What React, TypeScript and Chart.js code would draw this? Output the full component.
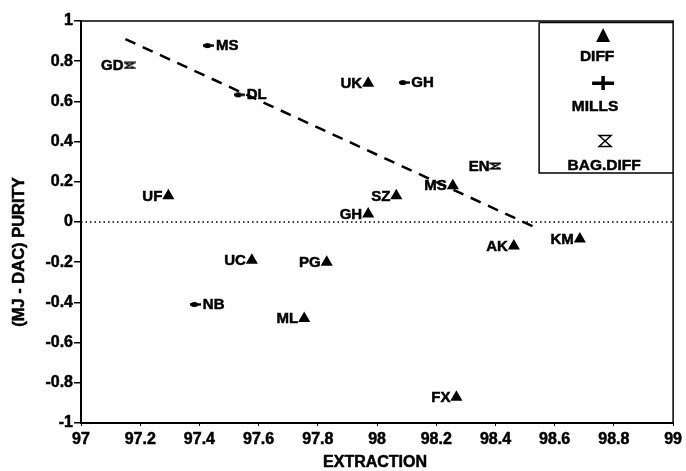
import React, { useEffect, useRef } from 'react';
import { Chart, registerables } from 'chart.js';

Chart.register(...registerables);

// ---- data ----
const diffNames = ['UK', 'MS', 'SZ', 'GH', 'UF', 'UC', 'PG', 'ML', 'AK', 'KM', 'FX'];
const diffX = [97.97, 98.256, 98.065, 97.97, 97.295, 97.577, 97.83, 97.754, 98.462, 98.685, 98.268];
const diffY = [0.69, 0.18, 0.13, 0.04, 0.13, -0.19, -0.2, -0.48, -0.12, -0.085, -0.872];

const millsNames = ['MS', 'DL', 'GH', 'NB'];
const millsX = [97.432, 97.536, 98.092, 97.388];
const millsY = [0.878, 0.633, 0.694, -0.41];

const bagNames = ['GD', 'EN'];
const bagX = [97.164, 98.4];
const bagY = [0.779, 0.278];

const trendX = [97.15, 98.53];
const trendY = [0.91, -0.024];

const zeroX = [97, 99];
const zeroY = [0, 0];

const xTicks = [97, 97.2, 97.4, 97.6, 97.8, 98, 98.2, 98.4, 98.6, 98.8, 99];
const xTickLabels = ['97', '97.2', '97.4', '97.6', '97.8', '98', '98.2', '98.4', '98.6', '98.8', '99'];
const yTicks = [-1, -0.8, -0.6, -0.4, -0.2, 0, 0.2, 0.4, 0.6, 0.8, 1];
const yTickLabels = ['-1', '-0.8', '-0.6', '-0.4', '-0.2', '0', '0.2', '0.4', '0.6', '0.8', '1'];

const seriesNames = ['DIFF', 'MILLS', 'BAG.DIFF'];
const xTitle = 'EXTRACTION';
const yTitle = '(MJ - DAC) PURITY';

const FONT = '"Liberation Sans", Arial, sans-serif';

function makeMillsMarker(): HTMLCanvasElement {
  const c = document.createElement('canvas');
  c.width = 11;
  c.height = 7;
  const g = c.getContext('2d')!;
  g.fillStyle = '#000';
  g.beginPath();
  g.ellipse(4, 3.5, 3.6, 2.6, 0, 0, Math.PI * 2);
  g.fill();
  g.fillRect(0, 2.3, 11, 2.4);
  return c;
}

function drawHourglass(g: CanvasRenderingContext2D, cx: number, cy: number, w: number, h: number, lw: number) {
  g.save();
  g.strokeStyle = '#000';
  g.lineWidth = lw;
  g.beginPath();
  g.moveTo(cx - w / 2, cy - h / 2);
  g.lineTo(cx + w / 2, cy - h / 2);
  g.lineTo(cx - w / 2, cy + h / 2);
  g.lineTo(cx + w / 2, cy + h / 2);
  g.closePath();
  g.stroke();
  g.restore();
}

function makeBagMarker(): HTMLCanvasElement {
  const c = document.createElement('canvas');
  c.width = 12;
  c.height = 8;
  const g = c.getContext('2d')!;
  drawHourglass(g, 6, 4, 10, 5.5, 1.6);
  return c;
}

function boldText(ctx: CanvasRenderingContext2D, t: string, x: number, y: number) {
  ctx.fillText(t, x, y);
  ctx.lineWidth = 0.5;
  ctx.strokeStyle = '#000';
  ctx.strokeText(t, x, y);
}

const labelsPlugin = {
  id: 'pointLabels',
  afterDatasetsDraw(chart: any) {
    const ctx = chart.ctx;
    ctx.save();
    ctx.fillStyle = '#000';
    ctx.font = `bold 15px ${FONT}`;
    ctx.textBaseline = 'middle';
    const sets = [
      { idx: 0, names: diffNames, align: 'right', dx: -6 },
      { idx: 1, names: millsNames, align: 'left', dx: 7 },
      { idx: 2, names: bagNames, align: 'right', dx: -6 },
    ];
    for (const s of sets) {
      const meta = chart.getDatasetMeta(s.idx);
      meta.data.forEach((el: any, i: number) => {
        ctx.textAlign = s.align;
        boldText(ctx, s.names[i], el.x + s.dx, el.y + 0.5);
      });
    }
    ctx.restore();
  },
};

const framePlugin = {
  id: 'frameAndLegend',
  afterDraw(chart: any) {
    const ctx = chart.ctx;
    const a = chart.chartArea;
    ctx.save();
    ctx.strokeStyle = '#000';
    // top & right frame
    ctx.lineWidth = 1.5;
    ctx.beginPath();
    ctx.moveTo(a.left, a.top);
    ctx.lineTo(a.right, a.top);
    ctx.lineTo(a.right, a.bottom);
    ctx.stroke();

    // legend box
    const lx = a.right - 134;
    const ly = a.top + 1.5;
    const lb = a.top + 152;
    ctx.lineWidth = 1.5;
    ctx.beginPath();
    ctx.moveTo(lx, ly);
    ctx.lineTo(a.right, ly);
    ctx.moveTo(lx, ly);
    ctx.lineTo(lx, lb);
    ctx.lineTo(a.right, lb);
    ctx.stroke();

    const cx = lx + 64;
    ctx.fillStyle = '#000';
    // triangle
    ctx.beginPath();
    ctx.moveTo(cx, a.top + 7);
    ctx.lineTo(cx + 7, a.top + 21);
    ctx.lineTo(cx - 7, a.top + 21);
    ctx.closePath();
    ctx.fill();
    // plus
    ctx.fillRect(cx - 11, a.top + 60.5, 22, 3.5);
    ctx.fillRect(cx - 1.75, a.top + 55, 3.5, 14);
    // hourglass
    drawHourglass(ctx, cx + 2, a.top + 120, 12, 11, 1.5);

    ctx.font = `bold 15.5px ${FONT}`;
    ctx.textAlign = 'center';
    ctx.textBaseline = 'middle';
    boldText(ctx, seriesNames[0], cx - 6, a.top + 36);
    boldText(ctx, seriesNames[1], cx - 8, a.top + 86);
    boldText(ctx, seriesNames[2], cx + 1, a.top + 145);

    // axis titles
    ctx.font = `bold 16px ${FONT}`;
    boldText(ctx, xTitle, (a.left + a.right) / 2 - 2, 463);
    ctx.translate(19, 252);
    ctx.rotate(-Math.PI / 2);
    ctx.font = `bold 16.5px ${FONT}`;
    boldText(ctx, yTitle, 0, 0);
    ctx.restore();
  },
};

export default function App() {
  const ref = useRef<HTMLCanvasElement | null>(null);

  useEffect(() => {
    if (!ref.current) return;
    const millsMarker = makeMillsMarker();
    const bagMarker = makeBagMarker();
    const toPts = (xs: number[], ys: number[]) => xs.map((x, i) => ({ x, y: ys[i] }));

    const chart = new Chart(ref.current, {
      type: 'scatter',
      data: {
        datasets: [
          {
            label: seriesNames[0],
            data: toPts(diffX, diffY),
            pointStyle: 'triangle',
            pointRadius: 7,
            backgroundColor: '#000',
            borderColor: '#000',
            borderWidth: 0,
          },
          {
            label: seriesNames[1],
            data: toPts(millsX, millsY),
            pointStyle: millsMarker as any,
            pointRadius: 5,
          },
          {
            label: seriesNames[2],
            data: toPts(bagX, bagY),
            pointStyle: bagMarker as any,
            pointRadius: 5,
          },
          {
            label: 'trend',
            type: 'line',
            data: toPts(trendX, trendY),
            borderColor: '#000',
            borderWidth: 2.5,
            borderDash: [11, 8],
            pointRadius: 0,
            fill: false,
          } as any,
          {
            label: 'zero',
            type: 'line',
            data: toPts(zeroX, zeroY),
            borderColor: '#000',
            borderWidth: 1.5,
            borderDash: [1.5, 3],
            pointRadius: 0,
            fill: false,
          } as any,
        ],
      },
      options: {
        animation: false,
        responsive: true,
        maintainAspectRatio: false,
        layout: { padding: { left: 0, right: 9, top: 21, bottom: 0 } },
        plugins: { legend: { display: false }, tooltip: { enabled: false } },
        scales: {
          x: {
            type: 'linear',
            min: 97,
            max: 99,
            afterBuildTicks: (s: any) => {
              s.ticks = xTicks.map((v) => ({ value: v }));
            },
            afterFit: (s: any) => {
              s.height = 48;
            },
            ticks: {
              autoSkip: false,
              maxRotation: 0,
              color: '#000',
              padding: 4,
              textStrokeColor: '#000',
              textStrokeWidth: 0.5,
              font: { family: FONT, size: 16, weight: 'bold' },
              callback: (v: any) => {
                const i = xTicks.findIndex((t) => Math.abs(t - v) < 1e-6);
                return i >= 0 ? xTickLabels[i] : '';
              },
            },
            grid: { drawOnChartArea: false, drawTicks: true, tickLength: 3, color: '#000', lineWidth: 1 },
            border: { display: true, color: '#000', width: 2 },
          },
          y: {
            type: 'linear',
            min: -1,
            max: 1,
            afterBuildTicks: (s: any) => {
              s.ticks = yTicks.map((v) => ({ value: v }));
            },
            afterFit: (s: any) => {
              s.width = 81;
            },
            ticks: {
              autoSkip: false,
              color: '#000',
              padding: 1,
              textStrokeColor: '#000',
              textStrokeWidth: 0.5,
              font: { family: FONT, size: 16, weight: 'bold' },
              callback: (v: any) => {
                const i = yTicks.findIndex((t) => Math.abs(t - v) < 1e-6);
                return i >= 0 ? yTickLabels[i] : '';
              },
            },
            grid: { drawOnChartArea: false, drawTicks: true, tickLength: 7, color: '#000', lineWidth: 1.5 },
            border: { display: true, color: '#000', width: 2 },
          },
        },
      },
      plugins: [labelsPlugin, framePlugin],
    });
    return () => chart.destroy();
  }, []);

  return (
    <div style={{ position: 'absolute', left: 0, top: 0, width: 686, height: 471, background: '#fff' }}>
      <canvas ref={ref} />
    </div>
  );
}
